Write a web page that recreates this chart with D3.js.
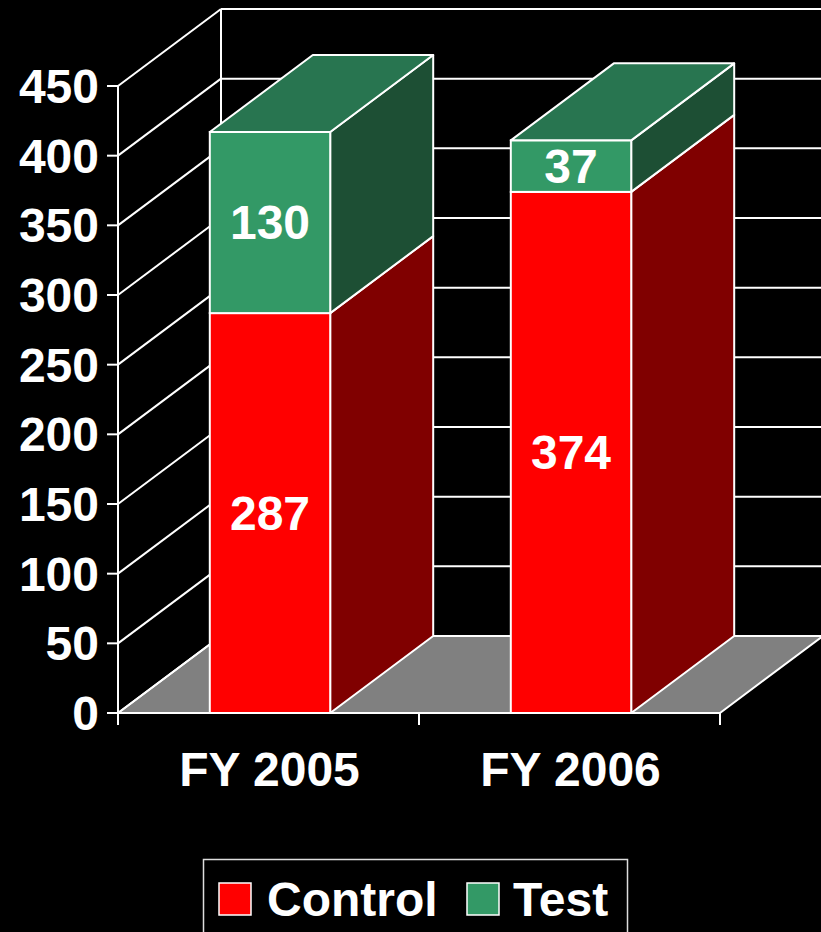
<!DOCTYPE html>
<html>
<head>
<meta charset="utf-8">
<script src="https://cdn.jsdelivr.net/npm/d3@7"></script>
<style>
html,body{margin:0;padding:0;background:#000;}
svg{display:block;}
text{font-family:"Liberation Sans",Arial,sans-serif;font-weight:bold;fill:#fff;}
</style>
</head>
<body>
<script>
const categories = ["FY 2005", "FY 2006"];
const controlValues = [287, 374];
const testValues = [130, 37];
const seriesNames = ["Control", "Test"];
const yTicks = [0, 50, 100, 150, 200, 250, 300, 350, 400, 450];

const W = 821, H = 932;
const svg = d3.select("body").append("svg").attr("width", W).attr("height", H);
svg.append("rect").attr("width", W).attr("height", H).attr("fill", "#000");

const DX = 103, DY = -77;
const y = d3.scaleLinear().domain([0, 450]).range([713, 86]);
const x = d3.scaleBand().domain(categories).range([118, 720]).paddingInner(0.6).paddingOuter(0.3);
const xLeft = 118, xRight = 720;
const stroke = "#fff", sw = 2;

const frontCol = {Control: "#ff0000", Test: "#339966"};
const sideCol = {Control: "#800000", Test: "#1d4f34"};
const topCol = {Control: "#a00000", Test: "#287550"};

const g = svg.append("g");
// back wall gridlines
yTicks.forEach(v => {
  g.append("line").attr("x1", xLeft + DX).attr("x2", W + 5)
    .attr("y1", y(v) + DY).attr("y2", y(v) + DY)
    .attr("stroke", stroke).attr("stroke-width", sw);
});
// floor
const floorPts = [[xLeft, y(0)], [xRight, y(0)], [xRight + DX, y(0) + DY], [xLeft + DX, y(0) + DY]];
g.append("polygon").attr("points", floorPts.map(p => p.join(",")).join(" "))
  .attr("fill", "#808080").attr("stroke", stroke).attr("stroke-width", sw).attr("stroke-linejoin", "round");
// left wall lines
yTicks.forEach(v => {
  g.append("line").attr("x1", xLeft).attr("y1", y(v)).attr("x2", xLeft + DX).attr("y2", y(v) + DY)
    .attr("stroke", stroke).attr("stroke-width", sw);
});
// back wall left vertical
g.append("line").attr("x1", xLeft + DX).attr("x2", xLeft + DX).attr("y1", y(450) + DY).attr("y2", y(0) + DY)
  .attr("stroke", stroke).attr("stroke-width", sw);

// bars
const bw = x.bandwidth();
const poly = pts => pts.map(p => p.join(",")).join(" ");
categories.forEach((c, i) => {
  const segs = [
    {name: "Control", v0: 0, v1: controlValues[i], val: controlValues[i]},
    {name: "Test", v0: controlValues[i], v1: controlValues[i] + testValues[i], val: testValues[i]}
  ];
  const x0 = x(c) + 1.5, x1 = x0 + bw;
  segs.forEach((s, k) => {
    g.append("polygon").attr("points", poly([[x1, y(s.v1)], [x1 + DX, y(s.v1) + DY], [x1 + DX, y(s.v0) + DY], [x1, y(s.v0)]]))
      .attr("fill", sideCol[s.name]).attr("stroke", stroke).attr("stroke-width", sw).attr("stroke-linejoin", "round");
    g.append("rect").attr("x", x0).attr("y", y(s.v1)).attr("width", bw).attr("height", y(s.v0) - y(s.v1))
      .attr("fill", frontCol[s.name]).attr("stroke", stroke).attr("stroke-width", sw);
    if (k === segs.length - 1) {
      g.append("polygon").attr("points", poly([[x0, y(s.v1)], [x1, y(s.v1)], [x1 + DX, y(s.v1) + DY], [x0 + DX, y(s.v1) + DY]]))
        .attr("fill", topCol[s.name]).attr("stroke", stroke).attr("stroke-width", sw).attr("stroke-linejoin", "round");
    }
  });
  segs.forEach(s => {
    g.append("text").attr("x", (x0 + x1) / 2).attr("y", (y(s.v0) + y(s.v1)) / 2)
      .attr("text-anchor", "middle").attr("dominant-baseline", "central")
      .attr("font-size", 48).text(s.val);
  });
});

// front axes
g.append("line").attr("x1", xLeft).attr("x2", xLeft).attr("y1", y(450)).attr("y2", y(0) + 12)
  .attr("stroke", stroke).attr("stroke-width", sw);
g.append("line").attr("x1", xLeft).attr("x2", xRight).attr("y1", y(0)).attr("y2", y(0))
  .attr("stroke", stroke).attr("stroke-width", sw);
yTicks.forEach(v => {
  g.append("line").attr("x1", xLeft - 11).attr("x2", xLeft).attr("y1", y(v)).attr("y2", y(v))
    .attr("stroke", stroke).attr("stroke-width", sw);
  g.append("text").attr("x", 99).attr("y", y(v) + 17).attr("text-anchor", "end")
    .attr("font-size", 48).text(v);
});
// category ticks
const step = x.step();
[xLeft, xLeft + step, xRight].forEach(px => {
  g.append("line").attr("x1", px).attr("x2", px).attr("y1", y(0)).attr("y2", y(0) + 12)
    .attr("stroke", stroke).attr("stroke-width", sw);
});
categories.forEach(c => {
  g.append("text").attr("x", x(c) + bw / 2 + 1).attr("y", 786).attr("text-anchor", "middle")
    .attr("font-size", 48).text(c);
});

// legend
const lg = svg.append("g");
lg.append("rect").attr("x", 203.5).attr("y", 859.5).attr("width", 424).attr("height", 100)
  .attr("fill", "#000").attr("stroke", "#ddd").attr("stroke-width", 1.5);
const legendItems = [{name: "Control", sx: 219, tx: 267}, {name: "Test", sx: 467, tx: 513}];
legendItems.forEach(it => {
  lg.append("rect").attr("x", it.sx).attr("y", 883).attr("width", 32).attr("height", 32)
    .attr("fill", frontCol[it.name]).attr("stroke", "#fff").attr("stroke-width", 1.5);
  lg.append("text").attr("x", it.tx).attr("y", 916).attr("font-size", 48).text(it.name);
});
</script>
</body>
</html>
